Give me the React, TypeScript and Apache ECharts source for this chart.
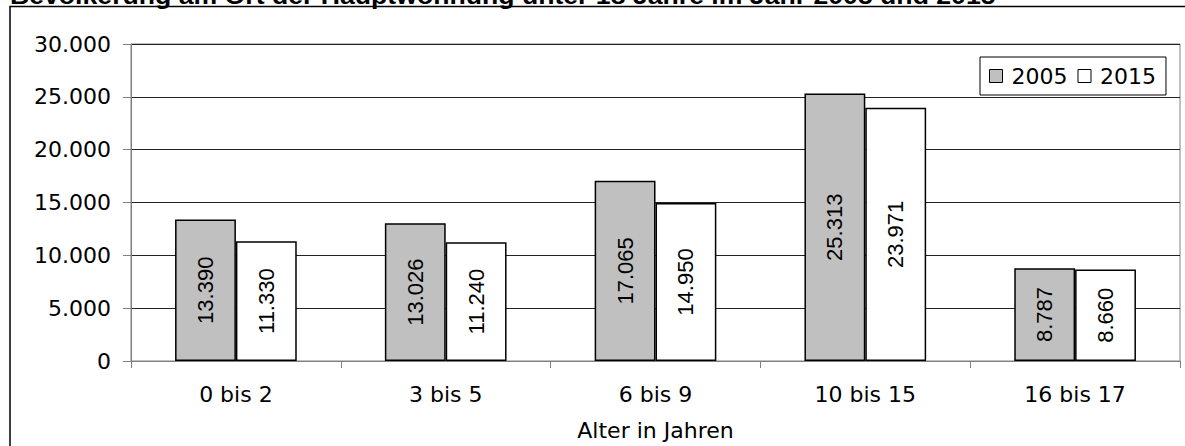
import React, { useEffect, useRef } from "react";
import * as echarts from "echarts";

const titleText = "Bevölkerung am Ort der Hauptwohnung unter 18 Jahre im Jahr 2005 und 2015";
const categories = ["0 bis 2", "3 bis 5", "6 bis 9", "10 bis 15", "16 bis 17"];
const seriesNames = ["2005", "2015"];
const values2005 = [13390, 13026, 17065, 25313, 8787];
const values2015 = [11330, 11240, 14950, 23971, 8660];
const xAxisName = "Alter in Jahren";

const fmt = (v: number) => {
  const s = Math.round(v).toString();
  return s.replace(/\B(?=(\d{3})+(?!\d))/g, ".");
};

const H_FONT = "DejaVu Sans";
const L_FONT = "Liberation Sans";

export default function App() {
  const ref = useRef<HTMLDivElement>(null);
  useEffect(() => {
    if (!ref.current) return;
    const chart = echarts.init(ref.current, null, { renderer: "svg" });
    const labelOpt = {
      show: true,
      position: "inside",
      rotate: 90,
      color: "#000",
      fontFamily: L_FONT,
      fontSize: 22,
      formatter: (p: any) => fmt(p.value),
    };
    chart.setOption({
      animation: false,
      backgroundColor: "#fff",
      graphic: [
        {
          type: "rect",
          shape: { x: 10, y: 6.5, width: 1200, height: 500 },
          style: { fill: "none", stroke: "#000", lineWidth: 1.5 },
          silent: true,
        },
        {
          type: "text",
          x: 10,
          y: -4.3,
          scaleX: 1.11,
          style: {
            text: titleText,
            x: 0,
            y: 0,
            font: `bold 24px "${L_FONT}"`,
            fill: "#000",
            verticalAlign: "middle",
            align: "left",
          },
          silent: true,
        },
      ],
      legend: {
        data: seriesNames,
        left: 980,
        top: 57,
        orient: "horizontal",
        icon: "rect",
        itemWidth: 13,
        itemHeight: 13,
        itemGap: 10,
        padding: [8, 10, 8, 9],
        borderColor: "#000",
        borderWidth: 1,
        backgroundColor: "#fff",
        itemStyle: { borderColor: "#000", borderWidth: 1 },
        textStyle: {
          fontFamily: H_FONT,
          fontSize: 22,
          color: "#000",
          padding: [0, 0, 0, 4],
          lineHeight: 22,
        },
      },
      grid: {
        left: 131,
        right: 5,
        top: 44,
        bottom: 83,
        show: true,
        borderColor: "#808080",
        borderWidth: 1,
        backgroundColor: "transparent",
      },
      xAxis: {
        type: "category",
        data: categories,
        name: xAxisName,
        nameLocation: "middle",
        nameGap: 58,
        nameTextStyle: { fontFamily: H_FONT, fontSize: 22, color: "#000" },
        axisLine: { show: true, lineStyle: { color: "#808080", width: 1 } },
        axisTick: { show: true, length: 7, lineStyle: { color: "#808080" } },
        axisLabel: { fontFamily: H_FONT, fontSize: 22, color: "#000", margin: 22 },
        splitLine: { show: false },
      },
      yAxis: {
        type: "value",
        min: 0,
        max: 30000,
        interval: 5000,
        axisLine: { show: true, lineStyle: { color: "#808080", width: 1 } },
        axisTick: { show: true, length: 8, lineStyle: { color: "#808080" } },
        axisLabel: {
          fontFamily: H_FONT,
          fontSize: 22,
          color: "#000",
          margin: 20,
          formatter: (v: number) => fmt(v),
        },
        splitLine: { show: true, lineStyle: { color: "#222", width: 1 } },
      },
      series: [
        {
          name: seriesNames[0],
          type: "bar",
          data: values2005,
          barCategoryGap: "42%",
          barGap: "0%",
          itemStyle: { color: "#C0C0C0", borderColor: "#000", borderWidth: 1.5 },
          label: labelOpt,
        },
        {
          name: seriesNames[1],
          type: "bar",
          data: values2015,
          barCategoryGap: "42%",
          barGap: "0%",
          itemStyle: { color: "#FFFFFF", borderColor: "#000", borderWidth: 1.5 },
          label: labelOpt,
        },
      ],
    });
    return () => chart.dispose();
  }, []);
  return (
    <div
      ref={ref}
      style={{ position: "absolute", left: 0, top: 0, width: 1185, height: 446 }}
    />
  );
}
